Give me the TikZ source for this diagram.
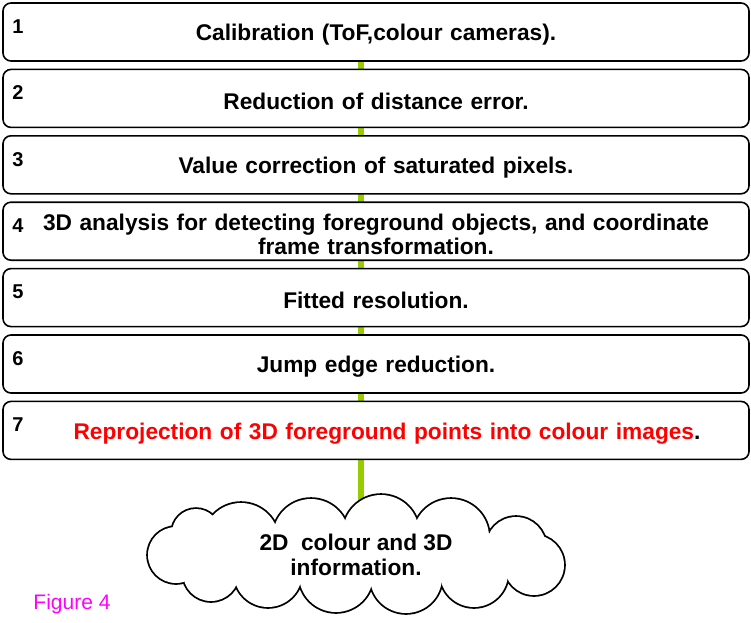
\documentclass[tikz,border=0pt]{standalone}
\usepackage{fontspec}
\setmainfont{Liberation Sans}
\usetikzlibrary{positioning,backgrounds}
\definecolor{stepgreen}{HTML}{99CC00}
\definecolor{figmagenta}{HTML}{FF00FF}
% puffs of the cloud: centre offset / radius (pt)
\newcommand\cloudpuffs{{(-115,14)/38}, {(-45,18)/38}, {(25,22)/38}, {(95,18)/38},
  {(160,8)/30}, {(178,-10)/30}, {(118,-18)/34}, {(50,-22)/36}, {(-20,-20)/37},
  {(-88,-18)/34}, {(-145,-18)/28}, {(-180,0)/28}, {(-160,22)/24}}
\begin{document}
\begin{tikzpicture}[
    x=1pt, y=1pt,
    node distance=6.8pt,
    stage/.style={draw, line width=1.6pt, rounded corners=8pt, fill=white,
      minimum width=746pt, minimum height=58pt, text width=720pt, align=center,
      font=\fontsize{22.7}{24}\selectfont\bfseries,
      execute at begin node={\rule{0pt}{22.5pt}}},
    num/.style={anchor=north west, inner sep=0pt,
      font=\fontsize{20}{24}\selectfont\bfseries}]
  \useasboundingbox (0,0) rectangle (751,-622);
  \node[stage] (s1) at (376,-32) {Calibration (ToF,colour cameras).};
  \node[stage, below=of s1] (s2) {Reduction of distance error.};
  \node[stage, below=of s2] (s3) {Value correction of saturated pixels.};
  \node[stage, below=of s3, execute at begin node={}] (s4) {3D analysis for detecting foreground objects, and coordinate\\frame transformation.};
  \node[stage, below=of s4] (s5) {Fitted resolution.};
  \node[stage, below=of s5] (s6) {Jump edge reduction.};
  \node[stage, below=of s6] (s7) {\hspace*{22pt}\textcolor{red}{Reprojection of 3D foreground points into colour images}.};
  % final result
  \coordinate (cc) at (356,-555);
  \foreach \p/\r in \cloudpuffs
    \draw[line width=3.6pt] ([shift={\p}]cc) circle (\r pt);
  \foreach \p/\r in \cloudpuffs
    \fill[white] ([shift={\p}]cc) circle (\r pt);
  \fill[white] (cc) ellipse [x radius=160pt, y radius=28pt];
  \node[align=center, font=\fontsize{22.7}{25}\selectfont\bfseries] (info) at (cc)
    {2D\ \ colour and 3D\\information.};
  \foreach \i in {1,...,7}
    \node[num] (n\i) at ([xshift=10pt,yshift=-17pt]s\i.north west) {\i};
  \node[text=figmagenta, font=\fontsize{21}{24}\selectfont] (fig) at (72,-604) {Figure 4};
  \begin{scope}[on background layer]
    \coordinate (spine) at ([xshift=-15pt]s1.center);
    \draw[stepgreen, line width=6pt] (spine) -- (spine |- info.center);
  \end{scope}
\end{tikzpicture}
\end{document}
